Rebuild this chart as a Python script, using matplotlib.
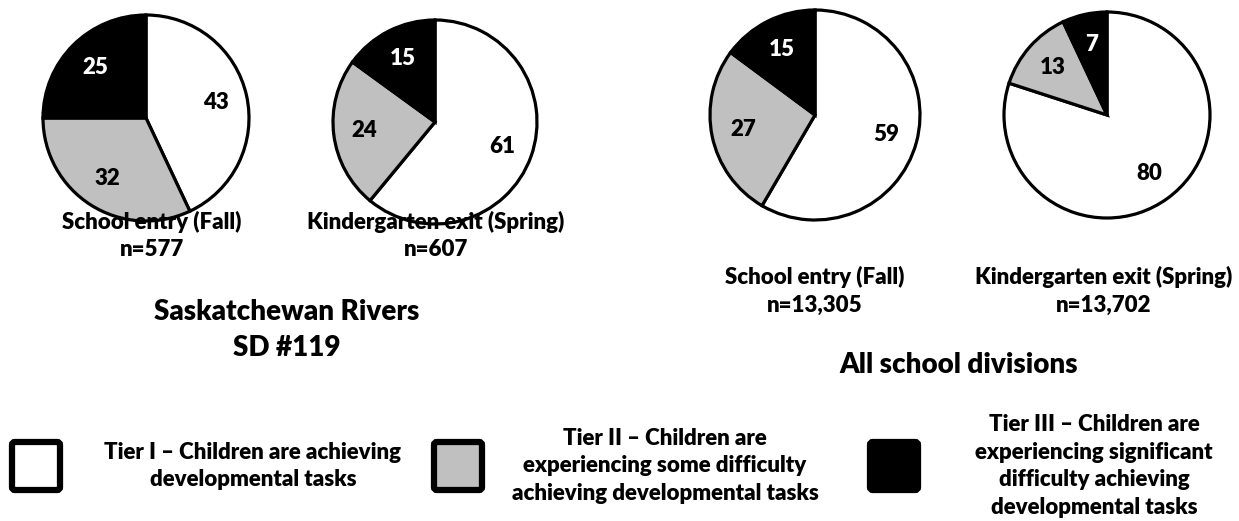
import numpy as np
import matplotlib
matplotlib.use("Agg")
import matplotlib.pyplot as plt
from matplotlib.patches import FancyBboxPatch

plt.rcParams['font.family'] = ['Lato', 'DejaVu Sans']
plt.rcParams['font.weight'] = 'heavy'

# ---- data ----
tiers = ['Tier I', 'Tier II', 'Tier III']
sask_fall = [43, 32, 25]
sask_spring = [61, 24, 15]
all_fall = [59, 27, 15]
all_spring = [80, 13, 7]
pie_titles = ['School entry (Fall)', 'Kindergarten exit (Spring)',
              'School entry (Fall)', 'Kindergarten exit (Spring)']
n_labels = ['n=577', 'n=607', 'n=13,305', 'n=13,702']
group_titles = ['Saskatchewan Rivers\nSD #119', 'All school divisions']
legend_texts = ['Tier I \u2013 Children are achieving\ndevelopmental tasks',
                'Tier II \u2013 Children are\nexperiencing some difficulty\nachieving developmental tasks',
                'Tier III \u2013 Children are\nexperiencing significant\ndifficulty achieving\ndevelopmental tasks']

# ---- style ----
colors = ['#FFFFFF', '#C0C0C0', '#000000']
num_colors = ['black', 'black', 'white']
W, H = 1239, 521
FS = 16
TFS = 20
WT = 'heavy'

fig = plt.figure(figsize=(W / 100, H / 100), dpi=100)
fig.patch.set_facecolor('white')

# layout (pixel coords, y from top)
pie_layout = [(146, 118, 103), (435, 122, 102), (815, 115, 105), (1107, 115, 103)]
series = [sask_fall, sask_spring, all_fall, all_spring]

for (cx, cy, r), vals in zip(pie_layout, series):
    ax = fig.add_axes([(cx - r) / W, (H - cy - r) / H, 2 * r / W, 2 * r / H])
    wedges, _ = ax.pie(vals, colors=colors, startangle=90, counterclock=False,
                       radius=1, wedgeprops=dict(edgecolor='black', linewidth=2.3))
    for w in wedges:
        w.set_clip_on(False)
    ax.set_xlim(-1, 1)
    ax.set_ylim(-1, 1)
    ax.set_aspect('auto')
    ax.axis('off')
    for w, v, c in zip(wedges, vals, num_colors):
        mid = np.deg2rad((w.theta1 + w.theta2) / 2)
        ax.text(0.7 * np.cos(mid), 0.7 * np.sin(mid), str(v), color=c,
                fontsize=FS, fontweight=WT, ha='center', va='center')

# overlay axes for text & legend in pixel coordinates
ov = fig.add_axes([0, 0, 1, 1], zorder=5)
ov.set_xlim(0, W)
ov.set_ylim(H, 0)
ov.axis('off')
ov.patch.set_alpha(0)

label_pos = [(152, 222), (436, 222), (815, 277), (1104, 277)]
for (x, y), t, n in zip(label_pos, pie_titles, n_labels):
    ov.text(x, y, t, fontsize=FS, fontweight=WT, ha='center', va='center')
    ov.text(x, y + 28, n, fontsize=FS, fontweight=WT, ha='center', va='center')

title_pos = [(287, 312), (959, 365)]
for (x, y), t in zip(title_pos, group_titles):
    for i, line in enumerate(t.split('\n')):
        ov.text(x, y + i * 36, line, fontsize=TFS, fontweight=WT,
                ha='center', va='center')

# legend
box_x = [9, 431, 867]
text_x = [253, 665, 1094]
ymid = 466
for bx, tx, col, txt in zip(box_x, text_x, colors, legend_texts):
    ov.add_patch(FancyBboxPatch((bx + 3, ymid - 24), 48, 48,
                                boxstyle='round,pad=0,rounding_size=3',
                                facecolor=col, edgecolor='black', linewidth=4.5))
    lines = txt.split('\n')
    k = len(lines)
    for i, line in enumerate(lines):
        ov.text(tx, ymid + (i - (k - 1) / 2) * 27.5, line, fontsize=FS,
                fontweight=WT, ha='center', va='center')

fig.savefig('out.png', dpi=100, facecolor='white')
